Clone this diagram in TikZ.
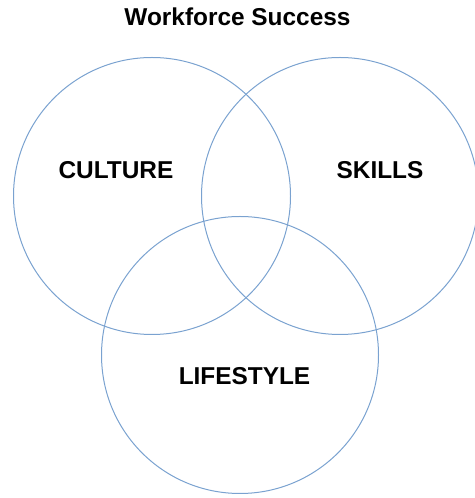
\documentclass[tikz,border=0pt]{standalone}
\usepackage{fontspec}
\setmainfont{Liberation Sans}
\usetikzlibrary{positioning}
\definecolor{ringblue}{RGB}{122,162,208}

\begin{document}
\begin{tikzpicture}[x=1pt, y=1pt,
    ring/.style={circle, draw=ringblue, line width=1pt, minimum size=277pt, inner sep=0pt},
    lbl/.style={font=\bfseries\fontsize{24.4}{28}\selectfont, inner sep=0pt, anchor=base}]
        \useasboundingbox (0,0) rectangle (474,498);

        %% Venn circles
        \node[ring] (culture) at (152,302) {};
        \node[ring] (skills) at (340,302) {};
        \node[ring] (lifestyle) at (240,143) {};

        %% Labels
        \node[lbl] (title) at (237.5,472) {Workforce Success};
        \node[lbl] (lculture) at (116,319) {CULTURE};
        \node[lbl] (lskills) at (380,319) {SKILLS};
        \node[lbl] (llifestyle) at (244.5,113) {LIFESTYLE};
\end{tikzpicture}
\end{document}
